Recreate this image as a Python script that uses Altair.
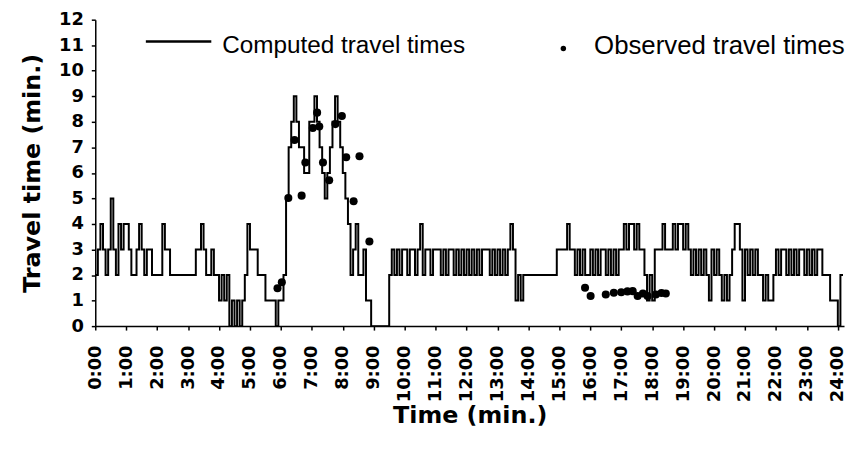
import altair as alt
import pandas as pd

# Computed travel times (min.), one value per 5-minute slot, 12 slots per hour
computed_by_hour = [
    [2, 3, 4, 3, 2, 3, 5, 3, 2, 4, 3, 4],   # 0:00
    [4, 3, 2, 2, 3, 4, 3, 2, 3, 3, 2, 2],   # 1:00
    [2, 2, 4, 3, 3, 2, 2, 2, 2, 2, 2, 2],   # 2:00
    [2, 2, 2, 3, 3, 4, 3, 2, 2, 3, 2, 2],   # 3:00
    [1, 2, 1, 2, 0, 1, 0, 1, 0, 1, 2, 4],   # 4:00
    [3, 3, 3, 2, 2, 2, 1, 1, 1, 1, 0, 1],   # 5:00
    [1, 2, 5, 7, 8, 9, 8, 7, 7, 6, 6, 8],   # 6:00
    [8, 9, 8, 7, 6, 5, 6, 7, 8, 9, 8, 7],   # 7:00
    [6, 5, 4, 2, 3, 4, 2, 2, 3, 1, 1, 0],   # 8:00
    [0, 0, 0, 0, 0, 0, 2, 3, 2, 3, 2, 3],   # 9:00
    [3, 2, 3, 3, 2, 3, 4, 2, 3, 3, 2, 3],   # 10:00
    [3, 3, 2, 3, 2, 3, 3, 2, 3, 2, 3, 2],   # 11:00
    [3, 2, 3, 2, 3, 2, 3, 3, 3, 2, 3, 2],   # 12:00
    [3, 2, 3, 2, 3, 4, 3, 1, 2, 1, 2, 2],   # 13:00
    [2, 2, 2, 2, 2, 2, 2, 2, 2, 2, 2, 3],   # 14:00
    [3, 3, 3, 4, 3, 3, 2, 3, 2, 3, 2, 2],   # 15:00
    [3, 2, 3, 2, 3, 3, 2, 3, 2, 3, 2, 3],   # 16:00
    [3, 4, 3, 4, 4, 3, 4, 3, 3, 2, 1, 2],   # 17:00
    [1, 3, 3, 3, 4, 3, 3, 3, 4, 3, 4, 4],   # 18:00
    [3, 4, 3, 2, 3, 2, 3, 2, 3, 2, 1, 3],   # 19:00
    [2, 3, 2, 1, 2, 1, 2, 3, 4, 4, 3, 1],   # 20:00
    [3, 2, 3, 2, 3, 2, 2, 1, 2, 1, 1, 2],   # 21:00
    [3, 2, 3, 3, 2, 3, 2, 3, 2, 3, 3, 2],   # 22:00
    [3, 2, 3, 2, 3, 3, 2, 2, 2, 1, 1, 1],   # 23:00
]
computed_tail = [0, 2]  # just past 24:00

# Observed travel times: time (h) and value (min.)
observed_time = [5.89, 6.03, 6.24, 6.67, 6.44, 6.79, 7.03, 7.17, 7.24, 7.36, 7.56,
                 7.76, 7.97, 8.11, 8.54, 8.35, 8.86,
                 15.83, 16.01, 16.50, 16.76, 17.00, 17.20, 17.37, 17.53, 17.70,
                 17.85, 18.12, 18.30, 18.44]
observed_value = [1.48, 1.72, 5.02, 5.11, 7.29, 6.41, 7.76, 8.36, 7.82, 6.41, 5.71,
                  7.91, 8.23, 6.61, 6.65, 4.89, 3.31,
                  1.50, 1.18, 1.24, 1.31, 1.33, 1.36, 1.37, 1.18, 1.28,
                  1.18, 1.24, 1.30, 1.28]

legend_labels = ["Computed travel times", "Observed travel times"]
hour_ticks = list(range(25))
value_ticks = list(range(13))

# Build step table
slots = [v for hour in computed_by_hour for v in hour] + computed_tail
t_vals = [i / 12 for i in range(len(slots))] + [len(slots) / 12]
v_vals = slots + [slots[-1]]
line_df = pd.DataFrame({"t": t_vals, "v": v_vals})
obs_df = pd.DataFrame({"t": observed_time, "v": observed_value})

x_enc = alt.X("t:Q",
              scale=alt.Scale(domain=[0, 24.2], nice=False, zero=False),
              axis=alt.Axis(values=hour_ticks, labelExpr="datum.value + ':00'",
                            labelAngle=270, title="Time (min.)", labelOverlap=False,
                            labelPadding=15, tickSize=4, titlePadding=2))
y_enc = alt.Y("v:Q",
              scale=alt.Scale(domain=[0, 12], nice=False),
              axis=alt.Axis(values=value_ticks, title="Travel time (min.)",
                            labelOverlap=False, labelPadding=8, tickSize=4,
                            titlePadding=14))

line = alt.Chart(line_df).mark_line(
    interpolate="step-after", color="black", strokeWidth=2
).encode(x=x_enc, y=y_enc)

points = alt.Chart(obs_df).mark_circle(size=66, color="black", opacity=1).encode(
    x=x_enc, y=y_enc)

leg1_df = pd.DataFrame({"label": [legend_labels[0]]})
leg2_df = pd.DataFrame({"label": [legend_labels[1]]})

leg_rule = alt.Chart(leg1_df).mark_rule(color="black", strokeWidth=2.5).encode(
    x=alt.value(51), x2=alt.value(117), y=alt.value(22))
leg_text1 = alt.Chart(leg1_df).mark_text(
    align="left", baseline="middle", font="Liberation Sans", fontSize=24.5, color="black"
).encode(x=alt.value(128), y=alt.value(27), text="label:N")
leg_dot = alt.Chart(leg2_df).mark_circle(size=30, color="black", opacity=1).encode(
    x=alt.value(472), y=alt.value(29))
leg_text2 = alt.Chart(leg2_df).mark_text(
    align="left", baseline="middle", font="Liberation Sans", fontSize=26, color="black"
).encode(x=alt.value(503), y=alt.value(27), text="label:N")

chart = alt.layer(line, points, leg_rule, leg_text1, leg_dot, leg_text2).properties(
    width=755, height=309,
    autosize=alt.AutoSizeParams(type="none"),
    padding={"left": 88, "top": 10, "right": 2, "bottom": 106},
).configure_view(stroke=None).configure_axis(
    grid=False, domainColor="black", domainWidth=1.5, tickColor="black", tickWidth=1.5,
    labelFont="DejaVu Sans", labelFontWeight="bold", labelFontSize=18, labelColor="black",
    titleFont="DejaVu Sans", titleFontWeight="bold", titleFontSize=24, titleColor="black",
)

chart.save("out.html", embed_options={"renderer": "svg", "actions": False})
